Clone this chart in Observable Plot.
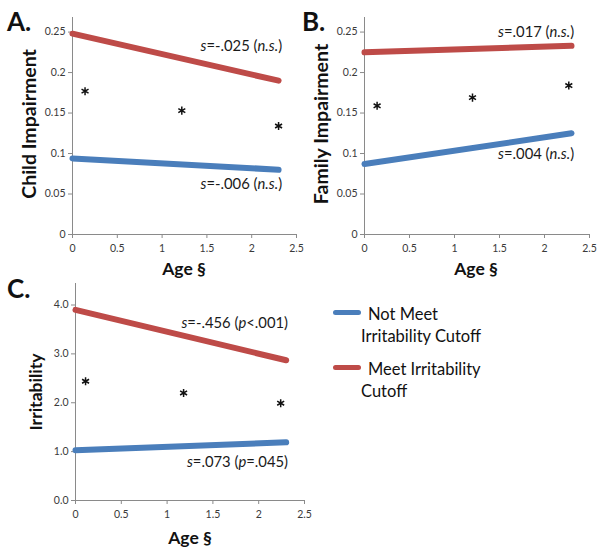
<!DOCTYPE html>
<html>
<head>
<meta charset="utf-8">
<script src="https://cdn.jsdelivr.net/npm/d3@7"></script>
<script src="https://cdn.jsdelivr.net/npm/@observablehq/plot@0.6"></script>
<style>
  html, body { margin: 0; padding: 0; background: #fff; }
  #root { position: relative; width: 604px; height: 554px; background: #fff; font-family: Lato, "Open Sans", sans-serif; color: #111; overflow: hidden; }
  .panel { position: absolute; }
  .lbl { position: absolute; white-space: nowrap; font-weight: bold; transform: translate(-50%, -50%); }
  .ylbl { transform: translate(-50%, -50%) rotate(-90deg); }
  .letter { position: absolute; font-weight: bold; font-size: 26px; line-height: 1; }
  .leg { position: absolute; font-size: 16.5px; line-height: 1; white-space: nowrap; color: #111; }
  .sw { position: absolute; width: 28px; height: 5px; border-radius: 3px; }
</style>
</head>
<body>
<div id="root"></div>
<script>
// ---- data ----
const seriesNames = ["Not Meet Irritability Cutoff", "Meet Irritability Cutoff"];
const seriesColors = ["#4a7ebb", "#be4b48"];
const ageEnds = [0, 2.3];

const childNot = [0.094, 0.080];
const childMeet = [0.248, 0.190];
const familyNot = [0.087, 0.125];
const familyMeet = [0.225, 0.233];
const irrNot = [1.03, 1.19];
const irrMeet = [3.90, 2.87];

const childStarX = [0.14, 1.22, 2.30];
const childStarY = [0.177, 0.153, 0.134];
const familyStarX = [0.14, 1.20, 2.27];
const familyStarY = [0.159, 0.169, 0.184];
const irrStarX = [0.11, 1.18, 2.24];
const irrStarY = [2.44, 2.20, 1.99];

const childNotes = ["s=-.025 (n.s.)", "s=-.006 (n.s.)"];
const childNoteY = [0.232, 0.062];
const familyNotes = ["s=.017 (n.s.)", "s=.004 (n.s.)"];
const familyNoteY = [0.250, 0.099];
const irrNotes = ["s=-.456 (p<.001)", "s=.073 (p=.045)"];
const irrNoteY = [3.62, 0.78];
const noteX = [2.34, 2.33, 2.32];

const xTicks = [0, 0.5, 1, 1.5, 2, 2.5];
const impairTicks = [0, 0.05, 0.1, 0.15, 0.2, 0.25];
const irrTicks = [0, 1, 2, 3, 4];

// ---- helpers ----
function panel(opts) {
  const lines = [];
  opts.series.forEach((vals, s) => {
    vals.forEach((v, i) => lines.push({x: ageEnds[i], y: v, s}));
  });
  const stars = opts.starX.map((x, i) => ({x, y: opts.starY[i]}));
  const notes = opts.notes.map((t, i) => ({x: opts.noteX, y: opts.noteY[i], t}));
  const svg = Plot.plot({
    width: opts.width, height: opts.height,
    marginLeft: opts.ml, marginRight: opts.mr, marginTop: opts.mt, marginBottom: opts.mb,
    x: {domain: [0, 2.5]},
    y: {domain: opts.yDomain},
    style: {fontFamily: "Lato, 'Open Sans', sans-serif", background: "transparent", overflow: "visible"},
    marks: [
      Plot.ruleX([0], {stroke: "#8a8a8a", strokeWidth: 1}),
      Plot.ruleY([0], {stroke: "#8a8a8a", strokeWidth: 1}),
      Plot.axisX({ticks: xTicks, tickSize: 4, tickPadding: 6, tickFormat: d => String(d), fontSize: 10.5, stroke: "#8a8a8a", color: "#3a3a3a", label: null}),
      Plot.axisY({ticks: opts.yTicks, tickSize: 4, tickPadding: 3, tickFormat: opts.yFormat, fontSize: 10.5, stroke: "#8a8a8a", color: "#3a3a3a", label: null}),
      Plot.line(lines, {x: "x", y: "y", z: "s", stroke: d => seriesColors[d.s], strokeWidth: 6, strokeLinecap: "round"}),
      Plot.dot(stars, {x: "x", y: "y", symbol: "asterisk", r: 3.8, stroke: "#111", strokeWidth: 1.5}),
      Plot.text(notes, {x: "x", y: "y", text: "t", textAnchor: "end", fontSize: 14.8, fill: "#1a1a1a"})
    ]
  });
  svg.querySelectorAll("text").forEach(t => {
    const s = t.textContent;
    if (s.startsWith("s=")) {
      let h = s.replace(/&/g, "&amp;").replace(/</g, "&lt;");
      h = h.replace(/^s/, '<tspan font-style="italic">s</tspan>')
           .replace(/\((n\.s\.|p)/, '(<tspan font-style="italic">$1</tspan>');
      t.innerHTML = h;
    }
  });
  const wrap = document.createElement("div");
  wrap.className = "panel";
  wrap.style.left = opts.left + "px";
  wrap.style.top = opts.top + "px";
  wrap.appendChild(svg);
  return wrap;
}

function addLabel(text, x, y, size, rotate) {
  const d = document.createElement("div");
  d.className = "lbl" + (rotate ? " ylbl" : "");
  d.style.left = x + "px"; d.style.top = y + "px"; d.style.fontSize = size + "px";
  d.innerHTML = text;
  root.appendChild(d);
}
function addLetter(text, x, y) {
  const d = document.createElement("div");
  d.className = "letter"; d.style.left = x + "px"; d.style.top = y + "px";
  d.textContent = text; root.appendChild(d);
}
function addLeg(text, x, y) {
  const d = document.createElement("div");
  d.className = "leg"; d.style.left = x + "px"; d.style.top = y + "px";
  d.textContent = text; root.appendChild(d);
}

const root = document.getElementById("root");

root.appendChild(panel({
  left: 0, top: 0, width: 300, height: 270, ml: 72, mr: 4, mt: 17, mb: 36,
  yDomain: [0, 0.268], yTicks: impairTicks, yFormat: d => String(d),
  series: [childNot, childMeet], starX: childStarX, starY: childStarY,
  notes: childNotes, noteY: childNoteY, noteX: noteX[0]
}));
root.appendChild(panel({
  left: 300, top: 0, width: 304, height: 270, ml: 64, mr: 15, mt: 17, mb: 36,
  yDomain: [0, 0.268], yTicks: impairTicks, yFormat: d => String(d),
  series: [familyNot, familyMeet], starX: familyStarX, starY: familyStarY,
  notes: familyNotes, noteY: familyNoteY, noteX: noteX[1]
}));
root.appendChild(panel({
  left: 0, top: 270, width: 310, height: 284, ml: 75, mr: 6, mt: 13, mb: 54,
  yDomain: [0, 4.44], yTicks: irrTicks, yFormat: d => d.toFixed(1),
  series: [irrNot, irrMeet], starX: irrStarX, starY: irrStarY,
  notes: irrNotes, noteY: irrNoteY, noteX: noteX[2]
}));

addLetter("A.", 7, 8);
addLetter("B.", 302, 8);
addLetter("C.", 7, 275);

addLabel("Child Impairment", 28, 124, 19.5, true);
addLabel("Family Impairment", 320, 124, 19.5, true);
addLabel("Irritability", 35, 392, 17.5, true);
addLabel("Age §", 184, 268, 17.5, false);
addLabel("Age §", 476, 268, 17.5, false);
addLabel("Age §", 190, 537, 17.5, false);

// legend
[312, 367].forEach((y, i) => {
  const sw = document.createElement("div");
  sw.className = "sw"; sw.style.left = "333px"; sw.style.top = (y - 2.5) + "px";
  sw.style.background = seriesColors[i];
  root.appendChild(sw);
});
addLeg("Not Meet", 368, 306);
addLeg("Irritability Cutoff", 361, 328);
addLeg("Meet Irritability", 368, 361);
addLeg("Cutoff", 361, 383);
</script>
</body>
</html>
